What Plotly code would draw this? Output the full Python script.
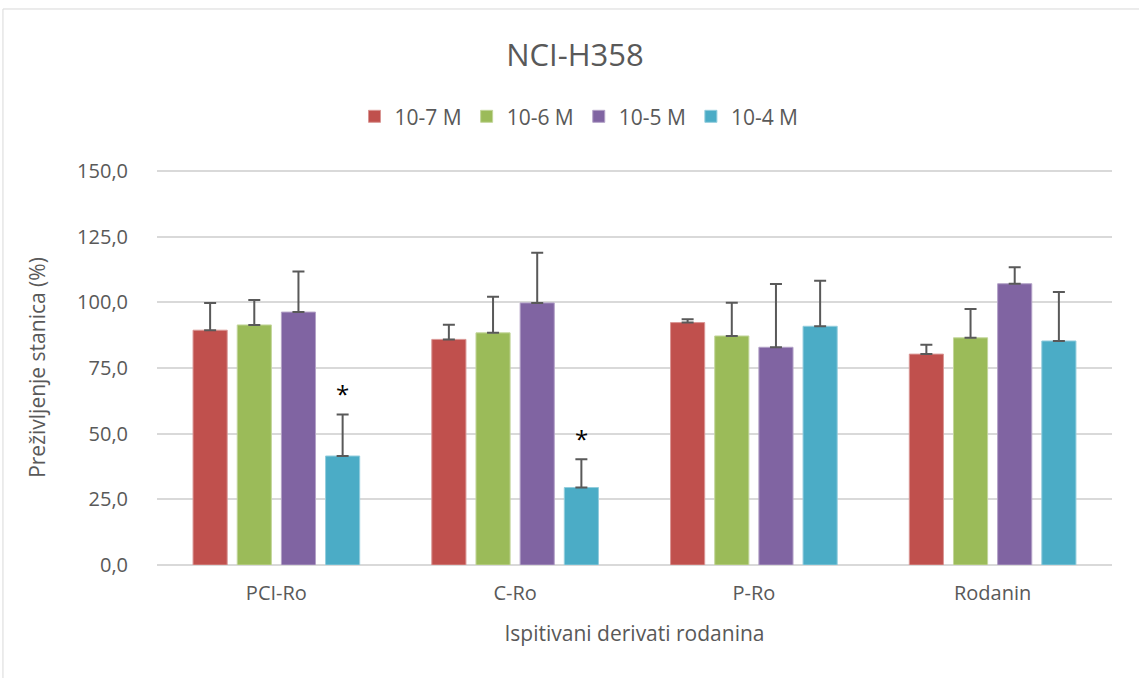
import plotly.graph_objects as go

categories = ["PCI-Ro", "C-Ro", "P-Ro", "Rodanin"]
series_names = ["10-7 M", "10-6 M", "10-5 M", "10-4 M"]
values = {
    "10-7 M": [89.4, 85.9, 92.3, 80.3],
    "10-6 M": [91.4, 88.4, 87.2, 86.5],
    "10-5 M": [96.3, 99.8, 82.9, 107.1],
    "10-4 M": [41.5, 29.5, 90.9, 85.3],
}
errors = {
    "10-7 M": [10.4, 5.6, 1.3, 3.6],
    "10-6 M": [9.5, 13.7, 12.7, 11.0],
    "10-5 M": [15.5, 19.1, 24.1, 6.3],
    "10-4 M": [15.8, 10.8, 17.3, 18.6],
}
colors = ["#C0504D", "#9BBB59", "#8064A2", "#4BACC6"]
border = ["#D99694", "#C3D69B", "#B3A2C7", "#93CDDD"]
significant = ["PCI-Ro", "C-Ro"]
y_ticks = [0, 25, 50, 75, 100, 125, 150]

FONT = "'Open Sans', sans-serif"
GREY = "#595959"

fig = go.Figure()
for name, c, b in zip(series_names, colors, border):
    fig.add_trace(go.Bar(
        name=name, x=categories, y=values[name],
        marker=dict(color=c, line=dict(color=b, width=1)),
        error_y=dict(type="data", array=errors[name], symmetric=False,
                     arrayminus=[0] * len(categories),
                     color=GREY, thickness=2, width=6),
    ))

# significance asterisks above the 10-4 M bars
last = series_names[-1]
for cat in significant:
    i = categories.index(cat)
    fig.add_annotation(x=cat, y=values[last][i] + errors[last][i] + 8,
                       text="*", showarrow=False, xshift=66,
                       font=dict(family=FONT, size=24, color="#000000"))

# chart frame (top and left edges visible)
fig.add_shape(type="line", xref="paper", yref="paper",
              x0=-0.1613, x1=1.05, y0=1.4076, y1=1.4076,
              line=dict(color="#D9D9D9", width=1))
fig.add_shape(type="line", xref="paper", yref="paper",
              x0=-0.1613, x1=-0.1613, y0=1.4076, y1=-0.35,
              line=dict(color="#D9D9D9", width=1))

fig.update_layout(
    width=1139, height=678,
    margin=dict(l=157, r=27, t=170, b=113, autoexpand=False),
    paper_bgcolor="white", plot_bgcolor="white",
    separators=",.",
    barmode="group", bargap=0.26, bargroupgap=0.227,
    title=dict(text="NCI-H358", x=575 / 1139, xref="container", xanchor="center",
               y=1 - 55 / 678, yanchor="middle",
               font=dict(family=FONT, size=31, color=GREY)),
    legend=dict(orientation="h", x=(579 - 157) / 955, xref="paper", xanchor="center",
                y=1.135, yanchor="middle",
                font=dict(family=FONT, size=21, color=GREY),
                itemwidth=30, traceorder="normal"),
    font=dict(family=FONT, color=GREY),
    xaxis=dict(title=dict(text="Ispitivani derivati rodanina",
                          font=dict(family=FONT, size=21, color=GREY), standoff=21),
               tickfont=dict(family=FONT, size=20, color=GREY),
               showline=False, ticks="", showgrid=False, ticklabelstandoff=14),
    yaxis=dict(title=dict(text="Preživljenje stanica (%)",
                          font=dict(family=FONT, size=21, color=GREY), standoff=25),
               range=[0, 150.4], tickvals=y_ticks, tickformat=".1f",
               tickfont=dict(family=FONT, size=20, color=GREY),
               gridcolor="#D9D9D9", gridwidth=1.5, zeroline=True,
               zerolinecolor="#D9D9D9", zerolinewidth=1.5, ticks="",
               showline=False, ticklabelstandoff=28),
)

fig.write_html("out.html", post_script="document.body.style.margin='0';",
               config={"displayModeBar": False})
